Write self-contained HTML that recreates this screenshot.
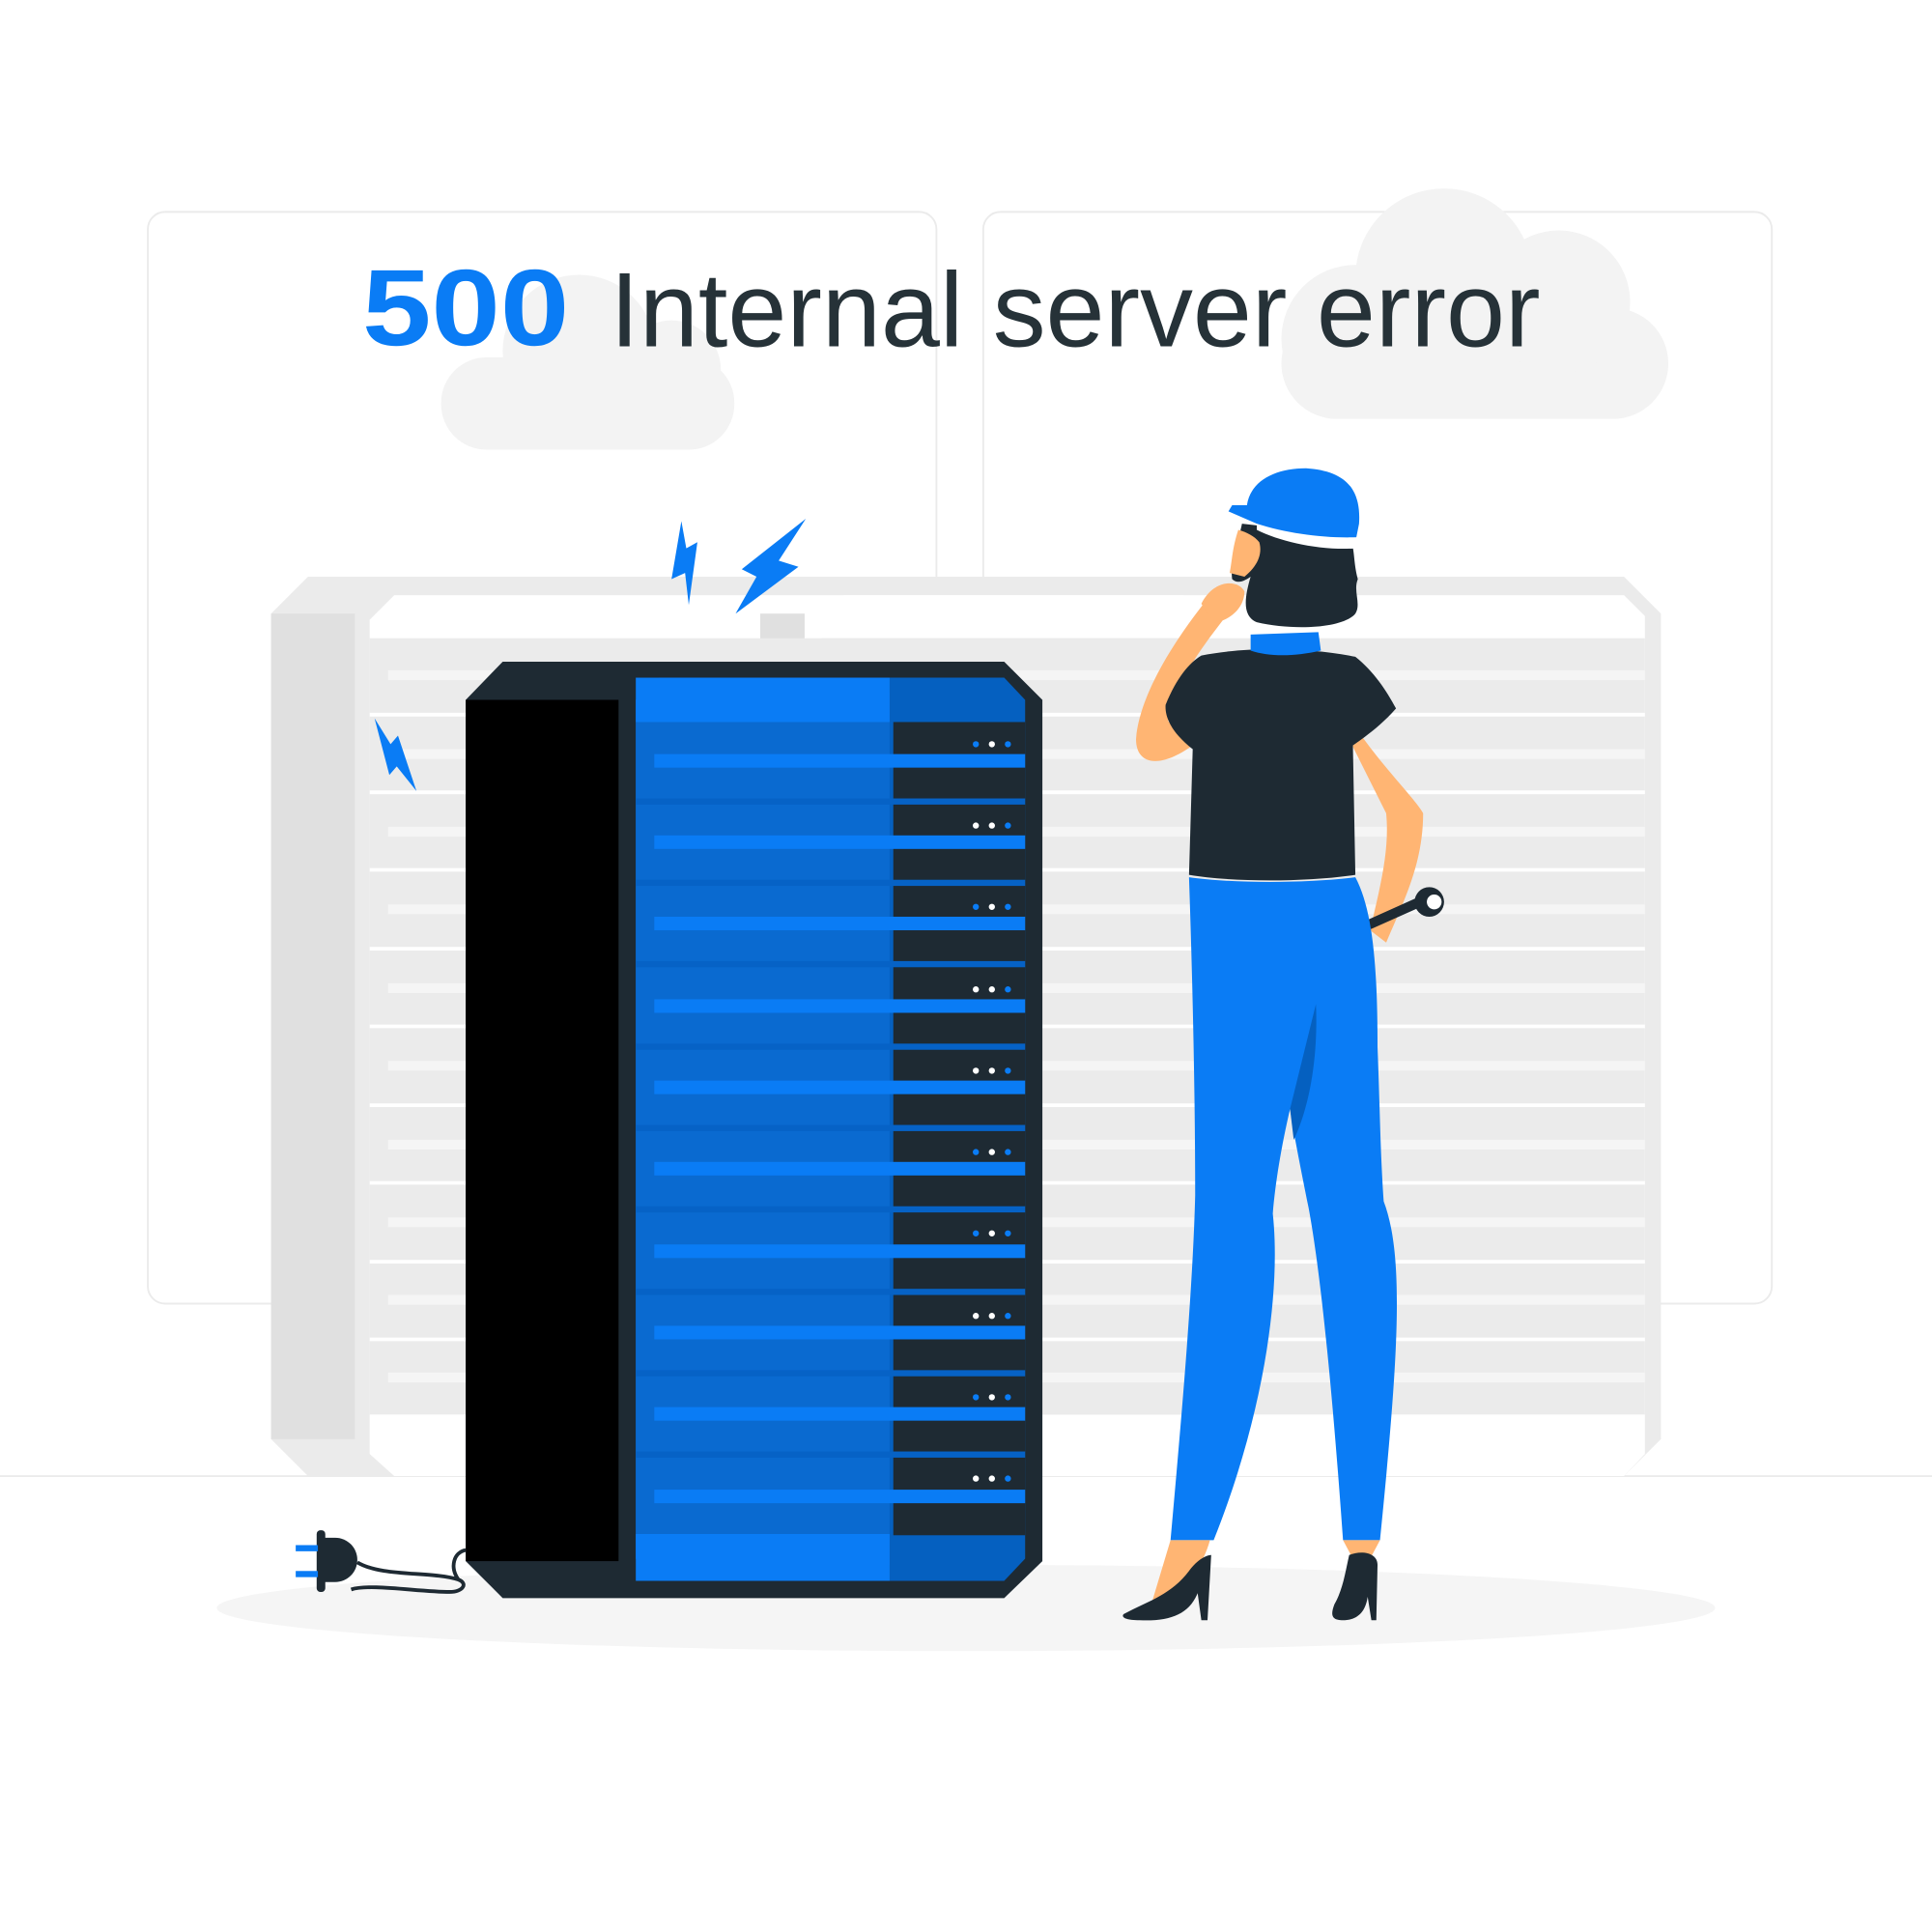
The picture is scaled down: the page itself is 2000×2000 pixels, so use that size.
<!DOCTYPE html>
<html><head><meta charset="utf-8"><style>html,body{margin:0;padding:0;background:#fff}svg{display:block}</style></head>
<body>
<svg width="2000" height="2000" viewBox="0 0 1568 1568" xmlns="http://www.w3.org/2000/svg">
<rect width="1568" height="1568" fill="#fff"/>
<rect x="120" y="172" width="640" height="886" rx="14" fill="#fff" stroke="#ebebeb" stroke-width="1.5"/>
<rect x="798" y="172" width="640" height="886" rx="14" fill="#fff" stroke="#ebebeb" stroke-width="1.5"/>
<g fill="#f3f3f3">
<rect x="358" y="290" width="238" height="75" rx="37"/>
<circle cx="470" cy="285" r="62"/><circle cx="545" cy="300" r="40"/>
<rect x="1040" y="250" width="314" height="90" rx="45"/>
<circle cx="1172" cy="225" r="72"/><circle cx="1265" cy="245" r="58"/><circle cx="1100" cy="275" r="60"/>
</g>
<text x="294" y="280" font-family="Liberation Sans, sans-serif" font-weight="bold" font-size="88" fill="#0a7cf5" textLength="168" lengthAdjust="spacingAndGlyphs">500</text>
<text x="495" y="281" font-family="Liberation Sans, sans-serif" font-size="86" fill="#263238">Internal server error</text>
<line x1="0" y1="1198" x2="1568" y2="1198" stroke="#ebebeb" stroke-width="1.5"/>
<ellipse cx="784" cy="1305" rx="608" ry="35" fill="#f5f5f5"/>
<polygon points="250,468 1318,468 1348,498 1348,1168 1318,1198 250,1198 220,1168 220,498" fill="#ebebeb"/>
<rect x="220" y="498" width="68" height="670" fill="#e0e0e0"/>
<polygon points="320,483 960,483 975,498 975,1180 960,1198 320,1198 300,1180 300,503" fill="#fff"/>
<polygon points="685,483 1318,483 1335,500 1335,1180 1318,1198 685,1198 667,1180 667,503" fill="#fff"/>
<rect x="617" y="498" width="36" height="670" fill="#e0e0e0"/>
<g fill="#ebebeb">
<rect x="300" y="518" width="660" height="630"/>
<rect x="667" y="518" width="668" height="630"/>
</g>
<g stroke="#fff" stroke-width="3">
<line x1="300" y1="580" x2="1335" y2="580"/><line x1="300" y1="643" x2="1335" y2="643"/>
<line x1="300" y1="706" x2="1335" y2="706"/><line x1="300" y1="770" x2="1335" y2="770"/>
<line x1="300" y1="833" x2="1335" y2="833"/><line x1="300" y1="897" x2="1335" y2="897"/>
<line x1="300" y1="960" x2="1335" y2="960"/><line x1="300" y1="1024" x2="1335" y2="1024"/>
<line x1="300" y1="1087" x2="1335" y2="1087"/>
</g>
<g stroke="#f5f5f5" stroke-width="8">
<line x1="315" y1="548" x2="1335" y2="548"/><line x1="315" y1="612" x2="1335" y2="612"/>
<line x1="315" y1="675" x2="1335" y2="675"/><line x1="315" y1="738" x2="1335" y2="738"/>
<line x1="315" y1="802" x2="1335" y2="802"/><line x1="315" y1="865" x2="1335" y2="865"/>
<line x1="315" y1="929" x2="1335" y2="929"/><line x1="315" y1="992" x2="1335" y2="992"/>
<line x1="315" y1="1055" x2="1335" y2="1055"/><line x1="315" y1="1118" x2="1335" y2="1118"/>
</g>
<polygon points="408,537 815,537 846,568 846,1267 815,1297 408,1297 378,1267 378,568" fill="#1e2a33"/>
<rect x="378" y="568" width="124" height="699" fill="#000"/>
<polygon points="535,550 815,550 832,568 832,1265 815,1283 535,1283 516,1265 516,568" fill="#0560c0"/>
<polygon points="535,550 710,550 722,562 722,1270 708,1283 535,1283 516,1265 516,568" fill="#0a6ad0"/>
<rect x="516" y="550" width="206" height="36" fill="#0a7cf5"/>
<rect x="516" y="1245" width="206" height="38" fill="#0a7cf5"/>
<rect x="725" y="586" width="107" height="660" fill="#1e2a33"/>
<g fill="#0a7cf5">
<rect x="531" y="612" width="301" height="11"/><rect x="531" y="678" width="301" height="11"/>
<rect x="531" y="744" width="301" height="11"/><rect x="531" y="811" width="301" height="11"/>
<rect x="531" y="877" width="301" height="11"/><rect x="531" y="943" width="301" height="11"/>
<rect x="531" y="1010" width="301" height="11"/><rect x="531" y="1076" width="301" height="11"/>
<rect x="531" y="1142" width="301" height="11"/><rect x="531" y="1209" width="301" height="11"/>
</g>
<g fill="#0662c6">
<rect x="516" y="648" width="316" height="5"/><rect x="516" y="714" width="316" height="5"/>
<rect x="516" y="780" width="316" height="5"/><rect x="516" y="847" width="316" height="5"/>
<rect x="516" y="913" width="316" height="5"/><rect x="516" y="979" width="316" height="5"/>
<rect x="516" y="1046" width="316" height="5"/><rect x="516" y="1112" width="316" height="5"/>
<rect x="516" y="1178" width="316" height="5"/>
</g>
<g fill="#fff">
<circle cx="805" cy="604" r="2.5"/><circle cx="805" cy="670" r="2.5"/><circle cx="805" cy="736" r="2.5"/>
<circle cx="805" cy="803" r="2.5"/><circle cx="805" cy="869" r="2.5"/><circle cx="805" cy="935" r="2.5"/>
<circle cx="805" cy="1001" r="2.5"/><circle cx="805" cy="1068" r="2.5"/><circle cx="805" cy="1134" r="2.5"/><circle cx="805" cy="1200" r="2.5"/>
<circle cx="792" cy="670" r="2.5"/><circle cx="792" cy="803" r="2.5"/><circle cx="792" cy="869" r="2.5"/>
<circle cx="792" cy="1068" r="2.5"/><circle cx="792" cy="1200" r="2.5"/>
</g>
<g fill="#0a7cf5">
<circle cx="818" cy="604" r="2.5"/><circle cx="818" cy="670" r="2.5"/><circle cx="818" cy="736" r="2.5"/>
<circle cx="818" cy="803" r="2.5"/><circle cx="818" cy="869" r="2.5"/><circle cx="818" cy="935" r="2.5"/>
<circle cx="818" cy="1001" r="2.5"/><circle cx="818" cy="1068" r="2.5"/><circle cx="818" cy="1134" r="2.5"/><circle cx="818" cy="1200" r="2.5"/>
<circle cx="792" cy="604" r="2.5"/><circle cx="792" cy="736" r="2.5"/><circle cx="792" cy="935" r="2.5"/>
<circle cx="792" cy="1001" r="2.5"/><circle cx="792" cy="1134" r="2.5"/>
</g>
<g fill="#0a7cf5">
<polygon points="553,423 557,445 566,440 559,491 556,465 545,470"/>
<polygon points="654,421 632,455 648,460 597,498 614,468 602,462"/>
<polygon points="304,583 317,604 323,597 338,642 322,622 316,629"/>
</g>
<g>
<path d="M290,1268 C310,1280 350,1275 372,1282 C380,1285 376,1292 365,1292 C340,1292 300,1285 285,1290" fill="none" stroke="#1e2a33" stroke-width="3"/>
<path d="M378,1258 C368,1260 365,1272 372,1282" fill="none" stroke="#1e2a33" stroke-width="3"/>
<path d="M262,1248 h10 a18,18 0 0 1 0,36 h-10 z" fill="#1e2a33"/>
<rect x="257" y="1242" width="7" height="50" rx="3" fill="#1e2a33"/>
<rect x="240" y="1254" width="18" height="5" fill="#0a7cf5"/>
<rect x="240" y="1275" width="18" height="5" fill="#0a7cf5"/>
</g>
<g>
<path d="M985,480 C960,510 925,560 922,600 C922,620 940,625 968,605 L975,575 C960,580 950,590 948,585 C955,550 980,520 995,500 Z" fill="#ffb573"/>
<path d="M975,490 C985,470 1005,470 1010,480 C1010,495 995,505 985,505 Z" fill="#ffb573"/>
<path d="M1100,590 C1120,620 1150,650 1155,660 C1155,700 1140,730 1125,765 L1112,755 C1120,720 1128,690 1125,660 C1115,640 1105,620 1095,600 Z" fill="#ffb573"/>
<path d="M1112,750 L1150,733" stroke="#1e2a33" stroke-width="8" stroke-linecap="round"/>
<circle cx="1160" cy="732" r="12" fill="#1e2a33"/><circle cx="1164" cy="732" r="6" fill="#fff"/>
<path d="M975,532 C1010,525 1060,525 1100,533 C1115,545 1125,560 1133,575 C1120,590 1105,600 1098,605 L1100,710 C1060,716 1000,716 965,710 L968,608 C955,598 945,585 946,572 C955,550 965,538 975,532 Z" fill="#1e2a33"/>
<path d="M1015,515 L1070,513 L1072,528 C1050,533 1030,533 1015,528 Z" fill="#0a7cf5"/>
<path d="M965,712 C1000,717 1060,717 1100,712 C1115,740 1118,790 1118,850 C1120,900 1120,930 1123,975 C1140,1020 1135,1100 1120,1250 L1090,1250 C1085,1180 1075,1050 1062,980 C1055,945 1050,920 1047,900 C1040,930 1035,960 1033,985 C1040,1050 1025,1150 985,1250 L950,1250 C958,1160 968,1050 970,970 C970,890 968,800 965,712 Z" fill="#0a7cf5"/>
<path d="M1068,815 C1070,860 1062,900 1050,925 L1047,900 Z" fill="#0560c0"/>
<path d="M950,1250 L982,1250 C975,1275 958,1295 935,1300 Z" fill="#ffb573"/>
<path d="M1090,1250 L1120,1250 L1112,1265 L1098,1265 Z" fill="#ffb573"/>
<path d="M912,1310 C930,1300 950,1295 965,1275 C972,1265 980,1262 983,1262 L980,1315 L975,1315 L972,1293 C965,1310 950,1316 925,1315 C912,1315 910,1312 912,1310 Z" fill="#1e2a33"/>
<path d="M1095,1262 C1105,1258 1118,1260 1118,1270 L1117,1315 L1113,1315 L1110,1296 C1108,1310 1100,1315 1090,1315 C1080,1315 1080,1310 1083,1302 C1090,1290 1092,1275 1095,1262 Z" fill="#1e2a33"/>
<path d="M1008,425 C1005,440 998,455 1000,470 C1005,475 1012,470 1015,468 C1010,485 1008,500 1020,505 C1050,512 1090,510 1100,498 C1105,490 1098,480 1102,470 C1098,455 1100,445 1095,435 Z" fill="#1e2a33"/>
<path d="M1005,430 C1000,445 1000,455 998,465 L1010,468 C1020,460 1025,450 1022,440 C1018,435 1012,432 1005,430 Z" fill="#ffb573"/>
<path d="M1012,410 C1015,390 1035,380 1060,380 C1090,382 1105,395 1103,425 L1100,440 C1070,440 1040,435 1020,425 L997,415 L1000,410 Z" fill="#0a7cf5"/>
<path d="M1020,425 C1045,433 1075,437 1102,436 L1101,445 C1072,447 1040,440 1020,430 Z" fill="#fff"/>
</g>
</svg>
</body></html>
